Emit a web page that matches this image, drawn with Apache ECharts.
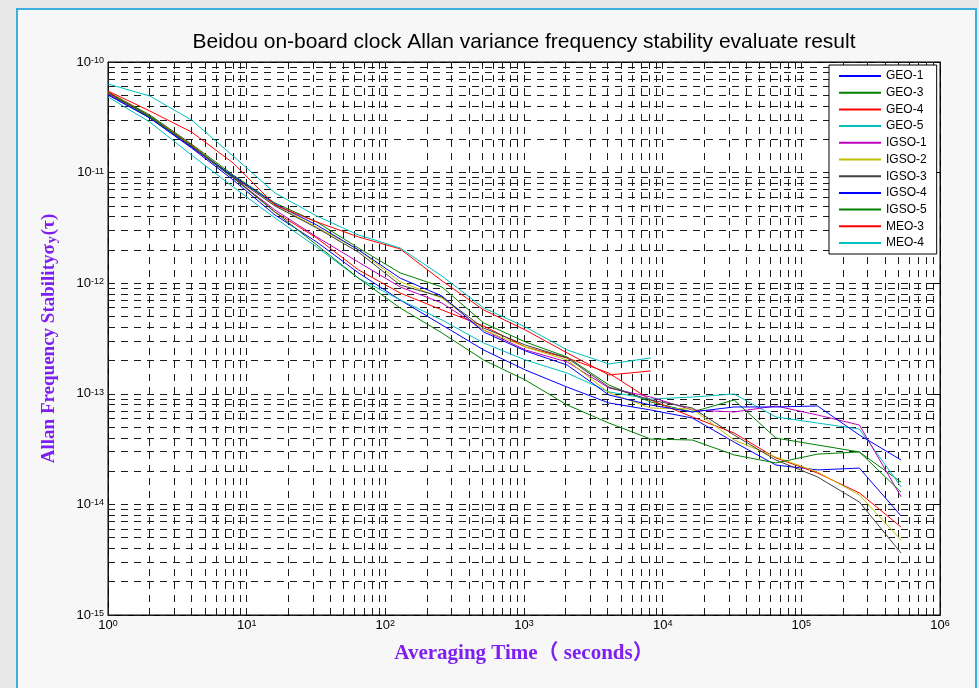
<!DOCTYPE html>
<html>
<head>
<meta charset="utf-8">
<script src="https://cdn.jsdelivr.net/npm/echarts@6/dist/echarts.min.js"></script>
<style>
  html, body { margin:0; padding:0; width:979px; height:688px; overflow:hidden; background:#e8e8e8; }
  #panel { position:absolute; left:16px; top:8px; width:957px; height:700px; border:2px solid #3aaee0; background:#f7f7f7; }
  #chart { position:absolute; left:0; top:0; width:979px; height:688px; }
</style>
</head>
<body>
<div id="panel"></div>
<div id="chart"></div>
<script>
// Averaging times (s)
const taus = [1,2,4,8,16,32,64,128,256,512,1024,2048,4096,8192,16384,32768,65536,131072,262144,524288];

// Allan deviation values per satellite
const GEO1  = [5.14e-11,3.12e-11,1.67e-11,8.57e-12,4.14e-12,2.36e-12,1.24e-12,7.05e-13,4.19e-13,2.49e-13,1.64e-13,1.15e-13,8.26e-14,7.14e-14,6.04e-14,3.66e-14,2.27e-14,2.05e-14,2.13e-14,7.85e-15];
const GEO3  = [5.36e-11,3.32e-11,1.81e-11,9.51e-12,5.31e-12,3.58e-12,2.08e-12,1.24e-12,9.24e-13,4.37e-13,2.94e-13,2.15e-13,1.20e-13,8.43e-14,6.85e-14,8.79e-14,3.98e-14,3.44e-14,2.98e-14,1.59e-14];
const GEO4  = [5.36e-11,3.25e-11,1.78e-11,9.13e-12,4.40e-12,2.56e-12,1.32e-12,8.15e-13,5.73e-13,4.10e-13,2.65e-13,2.11e-13,1.54e-13,8.79e-14,6.17e-14,4.42e-14,2.63e-14,1.92e-14,1.27e-14,6.24e-15];
const GEO5  = [4.83e-11,2.87e-11,1.44e-11,7.41e-12,3.89e-12,2.12e-12,1.11e-12,7.05e-13,4.65e-13,2.88e-13,2.02e-13,1.54e-13,1.04e-13,8.97e-14,9.35e-14,9.96e-14,6.17e-14,5.44e-14,4.80e-14,1.44e-14];
const IGSO1 = [5.14e-11,3.18e-11,1.70e-11,8.94e-12,4.59e-12,2.62e-12,1.55e-12,9.24e-13,6.62e-13,3.77e-13,2.49e-13,1.94e-13,1.13e-13,9.35e-14,7.14e-14,6.85e-14,7.76e-14,6.43e-14,5.22e-14,1.17e-14];
const IGSO2 = [5.25e-11,3.25e-11,1.74e-11,9.32e-12,5.09e-12,3.22e-12,2.00e-12,1.03e-12,7.35e-13,3.77e-13,2.65e-13,2.02e-13,1.02e-13,7.44e-14,7.29e-14,3.82e-14,2.68e-14,1.96e-14,1.22e-14,4.76e-15];
const IGSO3 = [5.25e-11,3.25e-11,1.74e-11,9.13e-12,4.99e-12,3.16e-12,1.91e-12,9.63e-13,7.50e-13,3.93e-13,2.76e-13,2.11e-13,1.15e-13,8.79e-14,7.44e-14,4.24e-14,2.52e-14,1.77e-14,1.05e-14,3.63e-15];
const IGSO4 = [5.03e-11,3.12e-11,1.70e-11,9.32e-12,5.20e-12,3.36e-12,2.00e-12,1.11e-12,7.66e-13,3.62e-13,2.44e-13,1.82e-13,9.75e-14,7.92e-14,6.85e-14,7.60e-14,7.60e-14,7.76e-14,4.24e-14,2.52e-14];
const IGSO5 = [5.25e-11,3.18e-11,1.74e-11,8.94e-12,4.40e-12,2.22e-12,1.11e-12,5.97e-13,3.55e-13,2.02e-13,1.33e-13,7.92e-14,5.44e-14,3.90e-14,3.82e-14,2.80e-14,2.37e-14,2.85e-14,2.98e-14,1.29e-14];
const MEO3  = [5.47e-11,3.61e-11,2.33e-11,1.22e-11,5.09e-12,3.58e-12,2.62e-12,2.04e-12,1.05e-12,5.73e-13,3.77e-13,2.34e-13,1.48e-13,1.61e-13];
const MEO4  = [6.33e-11,4.93e-11,2.99e-11,1.41e-11,6.54e-12,4.05e-12,2.73e-12,2.08e-12,1.16e-12,5.97e-13,4.02e-13,2.49e-13,1.86e-13,2.11e-13];

const seriesNames = ['GEO-1','GEO-3','GEO-4','GEO-5','IGSO-1','IGSO-2','IGSO-3','IGSO-4','IGSO-5','MEO-3','MEO-4'];
const seriesValues = [GEO1,GEO3,GEO4,GEO5,IGSO1,IGSO2,IGSO3,IGSO4,IGSO5,MEO3,MEO4];
const seriesColors = ['#0000ff','#008000','#ff0000','#00bfbf','#bf00bf','#bfbf00','#404040','#0000ff','#008000','#ff0000','#00bfbf'];

// axis ranges (decade exponents)
const xExp = [0, 6];
const yExp = [-15, -10];

function gridValues(e0, e1) {
  const out = [];
  for (let e = e0; e < e1; e++) for (let m = 1; m <= 9; m++) out.push(+(m * Math.pow(10, e)).toPrecision(3));
  out.push(Math.pow(10, e1));
  return out;
}
const gridX = gridValues(xExp[0], xExp[1]);
const gridY = gridValues(yExp[0], yExp[1]);
const xMin = Math.pow(10, xExp[0]), xMax = Math.pow(10, xExp[1]);
const yMin = Math.pow(10, yExp[0]), yMax = Math.pow(10, yExp[1]);

const labelRich = {
  b: { fontSize: 13, lineHeight: 12, fontFamily: 'Liberation Sans, Arial, sans-serif', color: '#000', padding: [7,0,7,0], verticalAlign: 'middle' },
  s: { fontSize: 9, lineHeight: 9, fontFamily: 'Liberation Sans, Arial, sans-serif', color: '#000', verticalAlign: 'top' }
};
const powFmt = v => '{b|10}{s|' + Math.round(Math.log10(v)) + '}';

const purple = '#7d1ff0';
const serif = '"Liberation Serif", "Times New Roman", "Noto Sans CJK SC", serif';

const gridLineStyle = { color: '#1a1a1a', width: 1, type: [7, 6] };

const series = seriesNames.map((n, i) => ({
  name: n, type: 'line', z: 3,
  data: seriesValues[i].map((v, j) => [taus[j], v]),
  symbol: 'none', showSymbol: false,
  lineStyle: { color: seriesColors[i], width: 1 },
  itemStyle: { color: seriesColors[i] },
  emphasis: { disabled: true },
  animation: false
}));
series.unshift({
  name: '_grid', type: 'line', z: 1, data: [[xMin, yMin]], symbol: 'none', silent: true,
  lineStyle: { opacity: 0 },
  markLine: {
    silent: true, z: 1, symbol: ['none','none'], animation: false, precision: 20,
    label: { show: false }, emphasis: { disabled: true },
    lineStyle: gridLineStyle,
    data: gridX.map(v => [{ coord: [v, yMin] }, { coord: [v, yMax] }])
      .concat(gridY.map(v => [{ coord: [xMin, v] }, { coord: [xMax, v] }]))
  }
});

const axisCommon = {
  axisLine: { show: true, lineStyle: { color: '#000', width: 1 } },
  axisTick: { show: true, inside: true, length: 6, lineStyle: { color: '#000' } },
  splitLine: { show: false }
};

const chart = echarts.init(document.getElementById('chart'));
chart.setOption({
  animation: false,
  backgroundColor: 'transparent',
  title: {
    text: 'Beidou on-board clock Allan variance frequency stability evaluate result',
    left: 524, top: 32, padding: 0, textAlign: 'center',
    textStyle: { fontFamily: 'Liberation Sans, Arial, sans-serif', fontSize: 21, fontWeight: 'normal', color: '#000' }
  },
  grid: { left: 108, right: 39, top: 62, bottom: 73, show: true, backgroundColor: '#fff', borderColor: '#000', borderWidth: 1 },
  legend: {
    data: seriesNames, orient: 'vertical', left: 829, top: 65, z: 50, zlevel: 1,
    padding: [5, 10, 5, 9], itemWidth: 42, itemHeight: 12, itemGap: 4.7, itemStyle: { opacity: 0 },
    backgroundColor: '#fff', borderColor: '#000', borderWidth: 1,
    textStyle: { fontFamily: 'Liberation Sans, Arial, sans-serif', fontSize: 12, lineHeight: 12, color: '#000' },
    selectedMode: false
  },
  xAxis: [
    Object.assign({
      type: 'log', logBase: 10, min: xMin, max: xMax, splitNumber: 6, position: 'bottom',
      axisLabel: { margin: 4, formatter: powFmt, rich: labelRich },
      name: 'Averaging Time（ seconds）', nameLocation: 'middle', nameGap: 27,
      nameTextStyle: { color: purple, fontFamily: serif, fontWeight: 'bold', fontSize: 21 }
    }, axisCommon),
    Object.assign({
      type: 'log', logBase: 10, min: xMin, max: xMax, splitNumber: 6, position: 'top',
      axisLabel: { show: false }
    }, axisCommon)
  ],
  yAxis: [
    Object.assign({
      type: 'log', logBase: 10, min: yMin, max: yMax, splitNumber: 5, position: 'left',
      axisLabel: { margin: 4, formatter: powFmt, rich: labelRich },
      name: '{a|Allan Frequency Stability}{a|σ}{u|y}{a|(τ)}', nameLocation: 'middle', nameGap: 49, nameRotate: 90,
      nameTextStyle: {
        color: purple, fontFamily: serif, fontWeight: 'bold', fontSize: 19,
        rich: {
          a: { color: purple, fontFamily: serif, fontWeight: 'bold', fontSize: 19, lineHeight: 19, verticalAlign: 'top' },
          u: { color: purple, fontFamily: serif, fontWeight: 'bold', fontSize: 14, lineHeight: 14, padding: [10,1,0,1], verticalAlign: 'bottom' }
        }
      }
    }, axisCommon),
    Object.assign({
      type: 'log', logBase: 10, min: yMin, max: yMax, splitNumber: 5, position: 'right',
      axisLabel: { show: false }
    }, axisCommon)
  ],
  series: series
});
</script>
</body>
</html>
